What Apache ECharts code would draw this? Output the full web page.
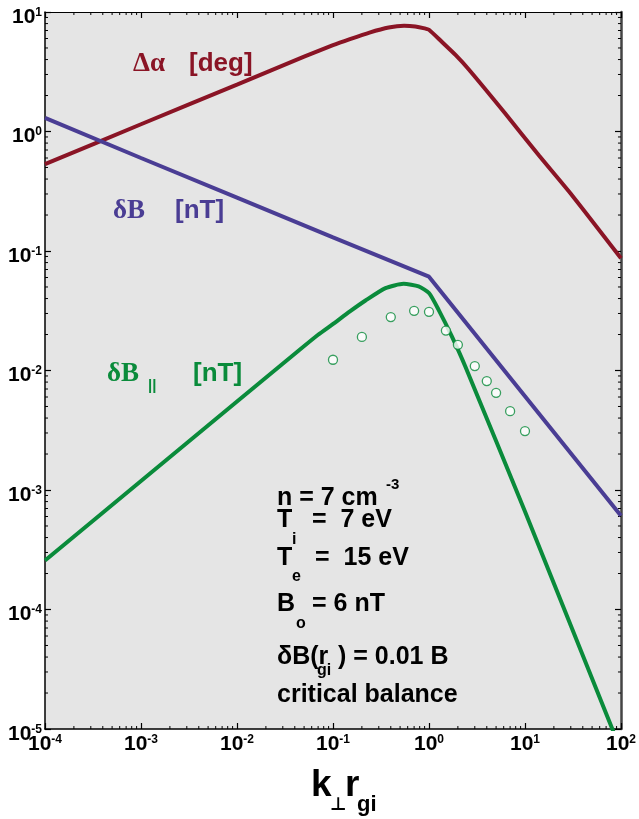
<!DOCTYPE html>
<html>
<head>
<meta charset="utf-8">
<script src="https://cdn.jsdelivr.net/npm/echarts@6/dist/echarts.min.js"></script>
<style>
  html, body { margin: 0; padding: 0; background: #ffffff; }
  #chart { width: 639px; height: 819px; }
</style>
</head>
<body>
<div id="chart"></div>
<script>
// Wavenumber k⊥ r_gi and the three fluctuation amplitudes
const alphaK   = [1e-4, 1e-3, 1e-2, 0.05, 0.1, 0.15, 0.24, 0.38, 0.55, 0.72, 0.9, 1, 1.35, 1.9, 2.6, 6.2, 14, 31, 100];
const alphaDeg = [0.533, 1.15, 2.47, 4.23, 5.28, 5.93, 6.73, 7.42, 7.67, 7.57, 7.3, 7.1, 5.66, 4.35, 3.3, 1.42, 0.63, 0.292, 0.087];

const dBK  = [1e-4, 1e-3, 1e-2, 0.1, 1, 10, 100];
const dBnT = [1.3, 0.6, 0.28, 0.13, 0.061, 0.0061, 0.00061];

const dBparK  = [1e-4, 1e-3, 1e-2, 0.044, 0.07, 0.098, 0.15, 0.218, 0.352, 0.544, 0.78, 1, 1.26, 1.73, 2.39, 10, 100];
const dBparnT = [2.57e-4, 1.19e-3, 5.5e-3, 0.0147, 0.0199, 0.0242, 0.0312, 0.0385, 0.0489, 0.0531, 0.0505, 0.0445, 0.0322, 0.0193, 0.0108, 6.6e-4, 6.6e-6];

// Measured δB|| points (open circles)
const obsK  = [0.1, 0.2, 0.4, 0.7, 1, 1.5, 2, 3, 4, 5, 7, 10];
const obsnT = [0.0123, 0.0191, 0.028, 0.0316, 0.031, 0.0216, 0.0164, 0.0109, 0.00815, 0.0065, 0.00457, 0.00311];

// Axis ranges (decades)
const xRange = [1e-4, 100];
const yRange = [1e-5, 10];

const RED = '#8A1425', BLUE = '#4A3D94', GREEN = '#0A8B3B';
const SANS = 'Liberation Sans, Arial, sans-serif';
const SERIF = 'Liberation Serif, Times New Roman, serif';

const zip = (a, b) => a.map((v, i) => [v, b[i]]);

// Minor ticks at 2..9 × 10^n inside each decade
function minorValues(lo, hi) {
  const out = [];
  for (let e = Math.round(Math.log10(lo)); e < Math.round(Math.log10(hi)); e++) {
    for (let m = 2; m <= 9; m++) out.push(m * Math.pow(10, e));
  }
  return out;
}
const minorX = minorValues(xRange[0], xRange[1]);
const minorY = minorValues(yRange[0], yRange[1]);

const powLabel = v => '{b|10}{s|' + Math.round(Math.log10(v)) + '}';
const powRich = {
  b: { fontFamily: SANS, fontWeight: 'bold', fontSize: 21, color: '#000', lineHeight: 21, verticalAlign: 'top' },
  s: { fontFamily: SANS, fontWeight: 'bold', fontSize: 12, color: '#000', lineHeight: 12, verticalAlign: 'top' }
};

function logAxis(range, pos, showLabel, lineColor, lineWidth, labelOpts) {
  return {
    type: 'log', logBase: 10, min: range[0], max: range[1], position: pos,
    axisLine: { show: true, onZero: false, lineStyle: { color: lineColor, width: lineWidth } },
    axisTick: { show: true, inside: true, length: 6, lineStyle: { color: '#000', width: 1.2 } },
    axisLabel: Object.assign({ show: showLabel, formatter: powLabel, rich: powRich }, labelOpts || {}),
    splitLine: { show: false },
    minorTick: { show: false },
    gridIndex: 0
  };
}

function tickSeries(values, isX) {
  return {
    type: 'custom', silent: true, clip: false, z: 1,
    xAxisIndex: 0, yAxisIndex: 0,
    data: values.map(v => isX ? [v, 1] : [1, v]),
    renderItem: function (params, api) {
      const cs = params.coordSys;
      const p = api.coord([api.value(0), api.value(1)]);
      const st = { stroke: '#000', lineWidth: 1 };
      if (isX) {
        return { type: 'group', children: [
          { type: 'line', shape: { x1: p[0], y1: cs.y + cs.height, x2: p[0], y2: cs.y + cs.height - 3 }, style: st },
          { type: 'line', shape: { x1: p[0], y1: cs.y, x2: p[0], y2: cs.y + 3 }, style: st }
        ]};
      }
      return { type: 'group', children: [
        { type: 'line', shape: { x1: cs.x, y1: p[1], x2: cs.x + 3, y2: p[1] }, style: st },
        { type: 'line', shape: { x1: cs.x + cs.width, y1: p[1], x2: cs.x + cs.width - 3, y2: p[1] }, style: st }
      ]};
    }
  };
}

function txt(text, x, y, size, color, family, weight) {
  return {
    type: 'text', x: x, y: y, z: 100, silent: true,
    style: {
      text: text, fill: color,
      font: (weight || 'bold') + ' ' + size + 'px ' + family,
      textAlign: 'left', textVerticalAlign: 'middle',
      align: 'left', verticalAlign: 'middle'
    }
  };
}

const chart = echarts.init(document.getElementById('chart'), null, { renderer: 'canvas' });

chart.setOption({
  animation: false,
  backgroundColor: '#ffffff',
  grid: { left: 45, right: 16, top: 12, bottom: 90, show: true, backgroundColor: '#E5E5E5', borderWidth: 0, containLabel: false },
  xAxis: [
    logAxis(xRange, 'bottom', true, '#000', 1.5, { margin: 5 }),
    logAxis(xRange, 'top', false, '#000', 1.2)
  ],
  yAxis: [
    logAxis(yRange, 'left', true, '#000', 1.5, { margin: 3, padding: [10, 0, 0, 0] }),
    logAxis(yRange, 'right', false, '#444', 2.5)
  ],
  series: [
    tickSeries(minorX, true),
    tickSeries(minorY, false),
    {
      name: 'Δα', type: 'line', data: zip(alphaK, alphaDeg), showSymbol: false, smooth: 0.2,
      lineStyle: { color: RED, width: 4 }, z: 3
    },
    {
      name: 'δB', type: 'line', data: zip(dBK, dBnT), showSymbol: false, smooth: false,
      lineStyle: { color: BLUE, width: 4 }, z: 3
    },
    {
      name: 'δB||', type: 'line', data: zip(dBparK, dBparnT), showSymbol: false, smooth: 0.2,
      lineStyle: { color: GREEN, width: 4 }, z: 4
    },
    {
      name: 'δB|| measured', type: 'scatter', data: zip(obsK, obsnT), symbol: 'circle', symbolSize: 9,
      itemStyle: { color: '#ffffff', borderColor: GREEN, borderWidth: 1.3 }, z: 5
    }
  ],
  graphic: [
    // curve labels
    txt('Δα', 133, 64, 27, RED, SERIF),
    txt('[deg]', 189, 64, 26, RED, SANS),
    txt('δB', 113, 211, 27, BLUE, SERIF),
    txt('[nT]', 175, 211, 26, BLUE, SANS),
    txt('δB', 107, 374, 27, GREEN, SERIF),
    txt('||', 148, 386, 15, GREEN, SANS),
    txt('[nT]', 193, 374, 26, GREEN, SANS),
    // plasma parameters
    txt('n = 7 cm', 277, 498.5, 25, '#000', SANS),
    txt('-3', 386, 485, 15, '#000', SANS),
    txt('T', 277, 520, 25, '#000', SANS),
    txt('i', 292, 540, 16, '#000', SANS),
    txt('=  7 eV', 312, 520, 25, '#000', SANS),
    txt('T', 277, 558.5, 25, '#000', SANS),
    txt('e', 292, 577, 16, '#000', SANS),
    txt('=  15 eV', 315, 558.5, 25, '#000', SANS),
    txt('B', 277, 604.5, 25, '#000', SANS),
    txt('o', 296, 624, 16, '#000', SANS),
    txt('= 6 nT', 312, 604.5, 25, '#000', SANS),
    txt('δB(r', 277, 657, 25, '#000', SANS),
    txt('gi', 317, 671, 16, '#000', SANS),
    txt(') = 0.01 B', 338, 657, 25, '#000', SANS),
    txt('critical balance', 277, 695, 25, '#000', SANS),
    // x axis title
    txt('k', 311, 786, 37, '#000', SANS),
    txt('⊥', 330, 805, 18, '#000', 'DejaVu Sans'),
    txt('r', 345, 786, 37, '#000', SANS),
    txt('gi', 357, 805, 22, '#000', SANS)
  ]
});
</script>
</body>
</html>
